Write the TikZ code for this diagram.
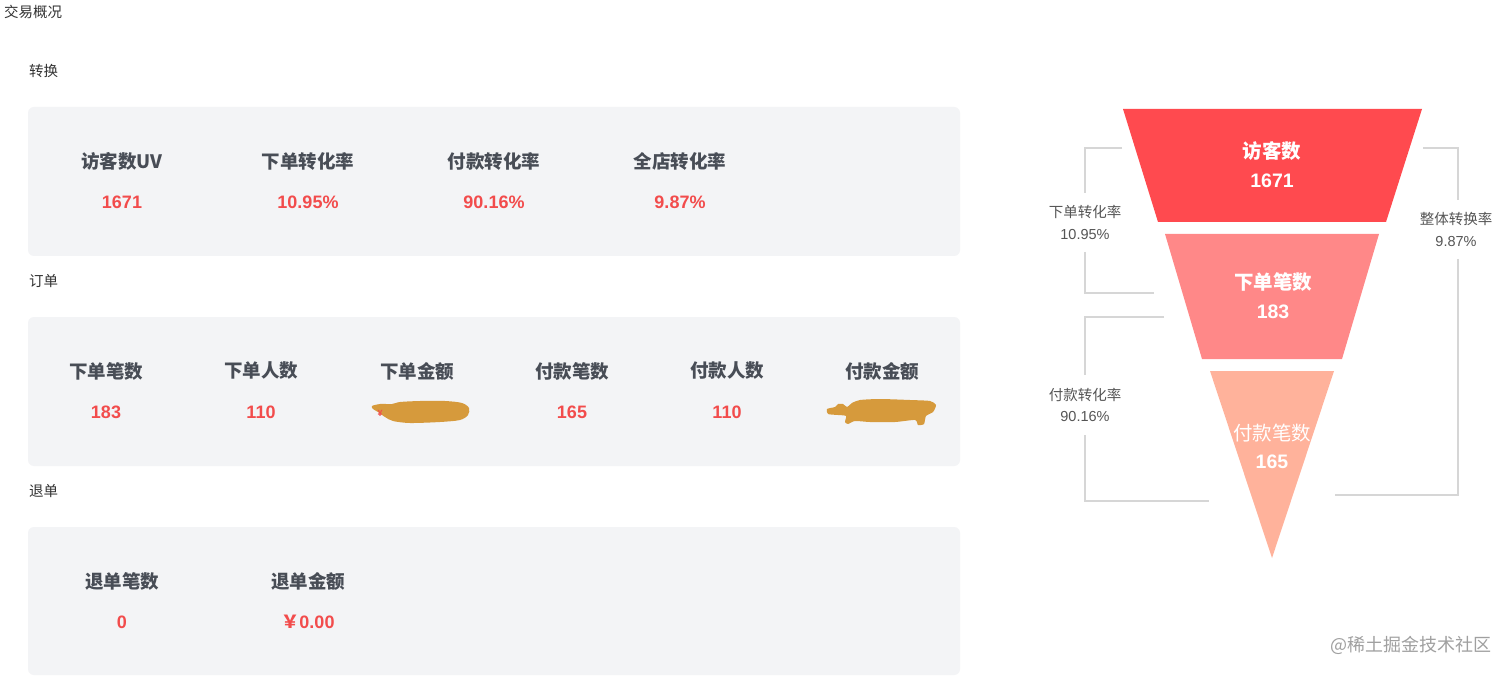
\documentclass[tikz,border=0pt]{standalone}
\usepackage{fontspec}
\newfontfamily\cjk{Noto Sans CJK SC}
\newfontfamily\numf{Liberation Sans}
\definecolor{panelbg}{RGB}{243,244,246}
\definecolor{sectc}{RGB}{51,51,51}
\definecolor{labc}{RGB}{72,77,86}
\definecolor{valc}{RGB}{242,76,76}
\definecolor{sidec}{RGB}{85,85,85}
\definecolor{brc}{RGB}{214,214,214}
\definecolor{blobc}{RGB}{214,154,60}
\definecolor{funa}{RGB}{255,74,79}
\definecolor{funb}{RGB}{255,136,136}
\definecolor{func}{RGB}{255,178,155}
\definecolor{markc}{RGB}{160,160,160}
\tikzset{
 panel/.style={fill=panelbg, draw=none, rounded corners=6pt},
 sect/.style={font=\cjk\fontsize{14.5}{16}\selectfont, text=sectc, anchor=west, inner sep=0},
 lab/.style={font=\cjk\bfseries\fontsize{18.5}{20}\selectfont, text=labc, inner sep=0},
 val/.style={font=\numf\bfseries\fontsize{18}{20}\selectfont, text=valc, inner sep=0},
 funtext/.style={font=\cjk\bfseries\fontsize{19.5}{22}\selectfont, text=white, inner sep=0},
 funnum/.style={font=\numf\bfseries\fontsize{19.5}{22}\selectfont, text=white, inner sep=0},
 side/.style={font=\cjk\fontsize{14.5}{16}\selectfont, text=sidec, inner sep=0},
 sidenum/.style={font=\numf\fontsize{14.5}{16}\selectfont, text=sidec, inner sep=0},
 bracket/.style={draw=brc, line width=2pt},
 blob/.style={fill=blobc, draw=none},
}
\begin{document}
\begin{tikzpicture}[x=1pt,y=-1pt]
\useasboundingbox[fill=white] (0,0) rectangle (1512,676);

% section titles
\node[sect] (title) at (4,12) {交易概况};
\node[sect] (s1) at (29,71) {转换};
\node[sect] (s2) at (29,281) {订单};
\node[sect] (s3) at (29,491) {退单};

% panels
\fill[panel] (28,107) rectangle (960,256);
\fill[panel] (28,317) rectangle (960,466);
\fill[panel] (28,527) rectangle (960,675);

% row 1
\node[lab] (l11) at (122,161) {访客数UV};
\node[val] (v11) at (122,202) {1671};
\node[lab] (l12) at (308,161) {下单转化率};
\node[val] (v12) at (308,202) {10.95\%};
\node[lab] (l13) at (494,161) {付款转化率};
\node[val] (v13) at (494,202) {90.16\%};
\node[lab] (l14) at (680,161) {全店转化率};
\node[val] (v14) at (680,202) {9.87\%};

% row 2
\node[lab] (l21) at (106,371) {下单笔数};
\node[val] (v21) at (106,412) {183};
\node[lab] (l22) at (261,371) {下单人数};
\node[val] (v22) at (261,412) {110};
\node[lab] (l23) at (417,371) {下单金额};
\node[lab] (l24) at (572,371) {付款笔数};
\node[val] (v24) at (572,412) {165};
\node[lab] (l25) at (727,371) {付款人数};
\node[val] (v25) at (727,412) {110};
\node[lab] (l26) at (882,371) {付款金额};

% blobs (scribbled-out values)
\fill[blob] plot[smooth cycle, tension=0.5] coordinates {(372,406) (380,404) (392,404) (400,402) (420,401) (445,401) (462,403) (469,408) (468,415) (460,420) (440,422) (410,423) (393,421) (385,417) (378,412) (373,409)};
\node[font=\numf\bfseries\fontsize{9}{10}\selectfont, text=valc, inner sep=0] (yen1) at (380,413) {¥};
\fill[blob] plot[smooth cycle, tension=0.4] coordinates {(827,409) (835,407) (838,404) (843,404) (847,407) (852,403) (860,400) (880,399) (910,400) (930,401) (936,405) (933,412) (926,416) (924,424) (918,425) (915,420) (895,422) (870,422) (855,421) (848,424) (845,422) (846,416) (838,415) (828,414)};

% row 3
\node[lab] (l31) at (122,581) {退单笔数};
\node[val] (v31) at (122,622) {0};
\node[lab] (l32) at (308,581) {退单金额};
\node[val] (v32) at (308,622) {{\cjk\bfseries ￥}0.00};

% funnel
\fill[funa] (1123,109) -- (1422,109) -- (1386,222) -- (1158,222) -- cycle;
\fill[funb] (1165,234) -- (1379,234) -- (1342,359) -- (1202,359) -- cycle;
\fill[func] (1210,371) -- (1334,371) -- (1272,558) -- cycle;
\node[funtext] (f1) at (1272,151) {访客数};
\node[funnum] (f1n) at (1272,181) {1671};
\node[funtext] (f2) at (1273,282) {下单笔数};
\node[funnum] (f2n) at (1273,312) {183};
\node[funtext, font=\cjk\fontsize{19.5}{22}\selectfont] (f3) at (1272,433) {付款笔数};
\node[funnum] (f3n) at (1272,462) {165};

% side labels
\node[side] (sl1) at (1085,212) {下单转化率};
\node[sidenum] (sl1n) at (1085,235) {10.95\%};
\node[side] (sl2) at (1085,395) {付款转化率};
\node[sidenum] (sl2n) at (1085,417) {90.16\%};
\node[side] (sr) at (1456,219) {整体转换率};
\node[sidenum] (srn) at (1456,242) {9.87\%};

% brackets
\coordinate (a1) at (1122,148);
\coordinate (a2) at (1085,193);
\coordinate (a3) at (1085,252);
\coordinate (a4) at (1154,293);
\draw[bracket] (a1) -| (a2);
\draw[bracket] (a3) |- (a4);
\coordinate (b1) at (1164,317);
\coordinate (b2) at (1085,375);
\coordinate (b3) at (1085,435);
\coordinate (b4) at (1209,501);
\draw[bracket] (b1) -| (b2);
\draw[bracket] (b3) |- (b4);
\coordinate (c1) at (1423,148);
\coordinate (c2) at (1458,200);
\coordinate (c3) at (1458,259);
\coordinate (c4) at (1335,495);
\draw[bracket] (c1) -| (c2);
\draw[bracket] (c3) |- (c4);

% watermark
\node[font=\cjk\fontsize{18}{20}\selectfont, text=markc, inner sep=0] (wm) at (1411,645) {@稀土掘金技术社区};
\end{tikzpicture}
\end{document}
